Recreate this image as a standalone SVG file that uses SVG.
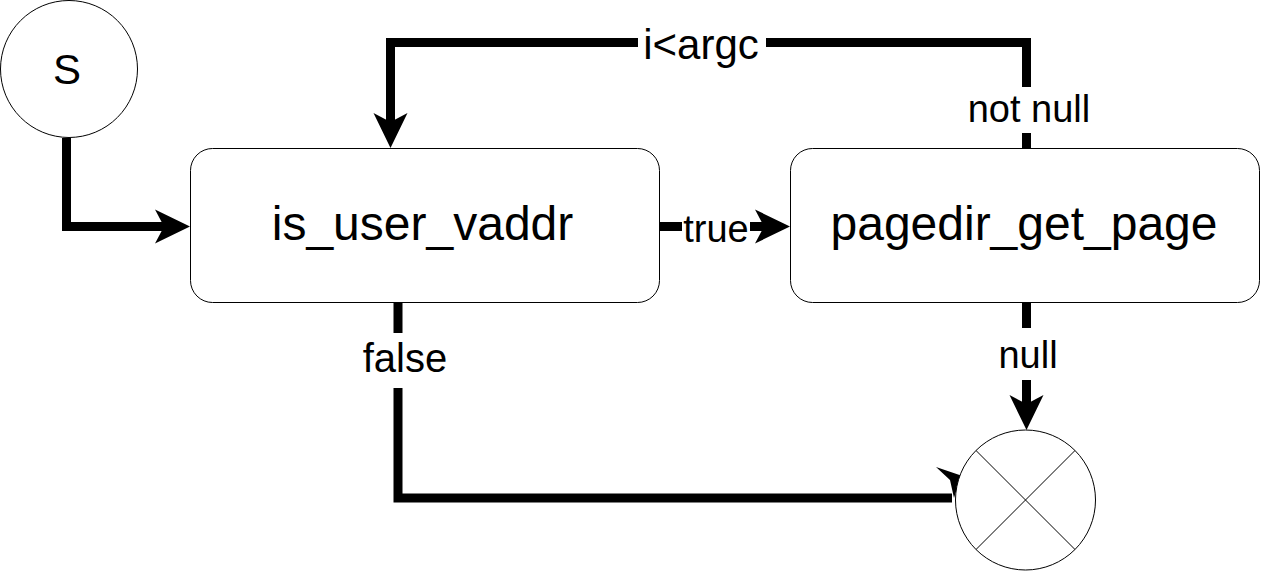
<svg xmlns="http://www.w3.org/2000/svg" width="1261" height="571" viewBox="0 0 1261 571">
  <style>
    .node { fill: #ffffff; stroke: #000000; stroke-width: 1; }
    .thin { fill: none; stroke: #000000; stroke-width: 1; }
    .edge { fill: none; stroke: #000000; stroke-width: 9; stroke-linejoin: miter; }
    .big { font-family: "Liberation Sans", Arial, sans-serif; font-size: 48px; fill: #000; text-anchor: middle; }
    .start { font-family: "Liberation Sans", Arial, sans-serif; font-size: 42px; fill: #000; text-anchor: middle; }
    .lbl { font-family: "Liberation Sans", Arial, sans-serif; font-size: 38px; fill: #000; text-anchor: middle; }
    .lblbg { fill: #ffffff; stroke: none; }
  </style>
  <defs>
    <marker id="arrow" markerUnits="userSpaceOnUse" viewBox="0 0 35 34" markerWidth="35" markerHeight="34" refX="9" refY="17" orient="auto" overflow="visible">
      <path d="M0,0 L35,17 L0,34 L9,17 Z" fill="#000"/>
    </marker>
  </defs>
  <rect width="1261" height="571" fill="#ffffff"/>

  <g id="connectors">
    <path class="edge" d="M66.5,138 V226.5 H164" marker-end="url(#arrow)"/>
    <path class="edge" d="M659,226.5 H764" marker-end="url(#arrow)"/>
    <path class="edge" d="M1026.5,148 V42.5 H390.5 V122" marker-end="url(#arrow)"/>
    <path class="edge" d="M1026.5,302 V404" marker-end="url(#arrow)"/>
    <path class="edge" d="M398,302 V498 H952"/>
    <path d="M936,467 L961,475.5 L954,498 L950,480 Z" fill="#000"/>
  </g>

  <g id="edge-labels">
    <rect class="lblbg" x="682" y="212" width="68" height="34"/>
    <text class="lbl" x="716" y="242">true</text>
    <rect class="lblbg" x="638" y="28" width="128" height="36"/>
    <text class="lbl" x="701" y="59" style="font-size:42px">i&lt;argc</text>
    <rect class="lblbg" x="964" y="87" width="130" height="46"/>
    <text class="lbl" x="1029" y="122">not null</text>
    <rect class="lblbg" x="358" y="333" width="94" height="55"/>
    <text class="lbl" x="405" y="372" style="font-size:40px">false</text>
    <rect class="lblbg" x="994" y="328" width="70" height="52"/>
    <text class="lbl" x="1028" y="368">null</text>
  </g>

  <g id="node-start">
    <circle class="node" cx="69" cy="69" r="68.5"/>
    <text class="start" x="67" y="84">S</text>
  </g>

  <g id="node-is_user_vaddr">
    <rect class="node" x="190.5" y="148.5" width="469" height="154" rx="22" ry="22"/>
    <text class="big" x="422.5" y="240">is_user_vaddr</text>
  </g>

  <g id="node-pagedir_get_page">
    <rect class="node" x="790.5" y="148.5" width="469" height="154" rx="22" ry="22"/>
    <text class="big" x="1024" y="240">pagedir_get_page</text>
  </g>

  <g id="node-end">
    <circle class="node" cx="1025.5" cy="500" r="70"/>
    <line class="thin" x1="976" y1="450.5" x2="1075" y2="549.5"/>
    <line class="thin" x1="1075" y1="450.5" x2="976" y2="549.5"/>
  </g>
</svg>
